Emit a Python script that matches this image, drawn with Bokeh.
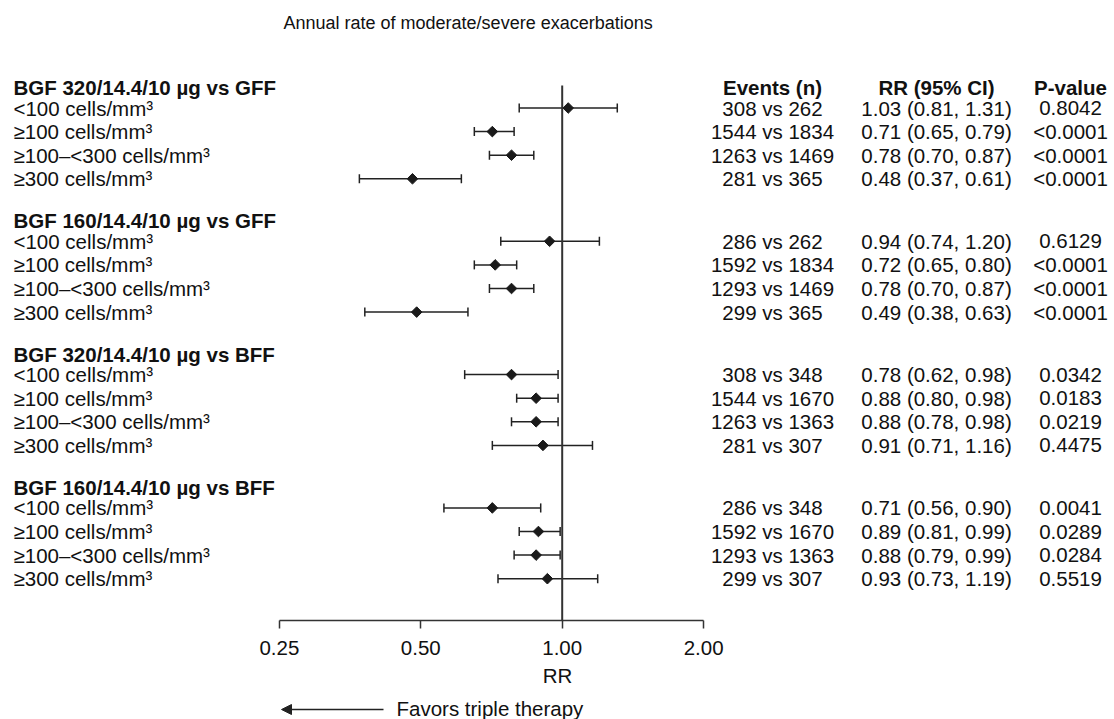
from bokeh.plotting import figure
from bokeh.layouts import column
from bokeh.models import (ColumnDataSource, Range1d, FixedTicker, NumeralTickFormatter,
                          Whisker, TeeHead, Label, Arrow, NormalHead)
from bokeh.core.properties import value
from bokeh.embed import file_html
from bokeh.resources import INLINE
import numpy as np

# ---------------- data ----------------
title_text = "Annual rate of moderate/severe exacerbations"
groups = ["BGF 320/14.4/10 µg vs GFF", "BGF 160/14.4/10 µg vs GFF",
          "BGF 320/14.4/10 µg vs BFF", "BGF 160/14.4/10 µg vs BFF"]
subgroups = ["<100 cells/mm³", "≥100 cells/mm³", "≥100–<300 cells/mm³", "≥300 cells/mm³"]
rr = [1.03, 0.71, 0.78, 0.48,
      0.94, 0.72, 0.78, 0.49,
      0.78, 0.88, 0.88, 0.91,
      0.71, 0.89, 0.88, 0.93]
ci_low = [0.81, 0.65, 0.70, 0.37,
          0.74, 0.65, 0.70, 0.38,
          0.62, 0.80, 0.78, 0.71,
          0.56, 0.81, 0.79, 0.73]
ci_high = [1.31, 0.79, 0.87, 0.61,
           1.20, 0.80, 0.87, 0.63,
           0.98, 0.98, 0.98, 1.16,
           0.90, 0.99, 0.99, 1.19]
events = ["308 vs 262", "1544 vs 1834", "1263 vs 1469", "281 vs 365",
          "286 vs 262", "1592 vs 1834", "1293 vs 1469", "299 vs 365",
          "308 vs 348", "1544 vs 1670", "1263 vs 1363", "281 vs 307",
          "286 vs 348", "1592 vs 1670", "1293 vs 1363", "299 vs 307"]
pvalues = ["0.8042", "<0.0001", "<0.0001", "<0.0001",
           "0.6129", "<0.0001", "<0.0001", "<0.0001",
           "0.0342", "0.0183", "0.0219", "0.4475",
           "0.0041", "0.0289", "0.0284", "0.5519"]
col_headers = ["Events (n)", "RR (95% CI)", "P-value"]
tick_values = [0.25, 0.5, 1.0, 2.0]
null_value = 1.0
axis_label = "RR"
favors_text = "Favors triple therapy"

# ---------------- layout ----------------
W = 1114
H_MAIN, H_FOOT = 695, 24
FRAME_BOTTOM = 620
FONT = value("Liberation Sans")
FS = "20.5px"
PX_ONE, PX_OCT = 561.7, 141.4   # page px of RR=1 and px per doubling


def px_to_x(px):
    return 2 ** ((px - PX_ONE) / PX_OCT)


group_y = [87 + 133.3 * g for g in range(len(groups))]
row_y = [gy + 20.5 + 23.6 * i for gy in group_y for i in range(len(subgroups))]
row_labels = [s for _ in groups for s in subgroups]
rr_text = [f"{r:.2f} ({l:.2f}, {h:.2f})" for r, l, h in zip(rr, ci_low, ci_high)]

xr = Range1d(px_to_x(0), px_to_x(W))

p = figure(width=W, height=H_MAIN, output_backend="svg", toolbar_location=None,
           x_axis_type="log", y_axis_location=None,
           x_range=xr, y_range=Range1d(FRAME_BOTTOM, 0),
           min_border_left=0, min_border_right=0, min_border_top=0,
           min_border_bottom=H_MAIN - FRAME_BOTTOM)
p.outline_line_color = None
p.xgrid.visible = False
p.ygrid.visible = False
p.background_fill_color = "white"
p.border_fill_color = "white"

# x axis
ax = p.xaxis[0]
ax.ticker = FixedTicker(ticks=tick_values)
ax.formatter = NumeralTickFormatter(format="0.00")
ax.bounds = (tick_values[0], tick_values[-1])
ax.axis_line_color = "#333333"
ax.axis_line_width = 1.5
ax.major_tick_line_color = "#333333"
ax.major_tick_line_width = 1.5
ax.major_tick_out = 8
ax.major_tick_in = 0
ax.minor_tick_line_color = None
ax.major_label_text_font = "Liberation Sans"
ax.major_label_text_font_size = FS
ax.major_label_text_color = "#111111"
ax.major_label_standoff = 12
ax.axis_label = axis_label
ax.axis_label_text_font = "Liberation Sans"
ax.axis_label_text_font_size = FS
ax.axis_label_text_font_style = "normal"
ax.axis_label_text_color = "#111111"
ax.axis_label_standoff = 6

# reference line at RR = 1
p.segment(x0=[null_value], y0=[85], x1=[null_value], y1=[FRAME_BOTTOM],
          line_color="#333333", line_width=2)

# confidence intervals
src = ColumnDataSource(dict(y=row_y, rr=rr, lo=ci_low, hi=ci_high,
                            label=row_labels, events=events, rrt=rr_text, p=pvalues))
wk = Whisker(source=src, base="y", lower="lo", upper="hi", dimension="width",
             line_color="#222222", line_width=1.5,
             lower_head=TeeHead(size=9, line_color="#222222", line_width=1.5),
             upper_head=TeeHead(size=9, line_color="#222222", line_width=1.5))
p.add_layout(wk)

# point estimates
p.scatter(x="rr", y="y", source=src, marker="square", angle=np.pi / 4, size=7.5,
          fill_color="#1a1a1a", line_color="#1a1a1a")

# left labels
p.text(x=px_to_x(13), y="y", text="label", source=src, text_font=FONT,
       text_font_size=FS, text_baseline="middle", text_align="left",
       text_color="#111111")
gsrc = ColumnDataSource(dict(y=group_y, t=groups))
p.text(x=px_to_x(13), y="y", text="t", source=gsrc, text_font=FONT,
       text_font_size=FS, text_font_style="bold", text_baseline="middle",
       text_align="left", text_color="#111111")

# right columns
col_px = [772, 936, 1070]
for cx, field in zip(col_px, ["events", "rrt", "p"]):
    p.text(x=px_to_x(cx), y="y", text=field, source=src, text_font=FONT,
           text_font_size=FS, text_baseline="middle", text_align="center",
           text_color="#111111")
hsrc = ColumnDataSource(dict(x=[px_to_x(c) for c in col_px],
                             y=[group_y[0]] * 3, t=col_headers))
p.text(x="x", y="y", text="t", source=hsrc, text_font=FONT, text_font_size=FS,
       text_font_style="bold", text_baseline="middle", text_align="center",
       text_color="#111111")

# title
p.add_layout(Label(x=px_to_x(283), y=22, text=title_text, text_font="Liberation Sans",
                   text_font_size="18px", text_baseline="middle", text_align="left",
                   text_color="#111111"))

# footer figure: favors arrow
f = figure(width=W, height=H_FOOT, output_backend="svg", toolbar_location=None,
           x_axis_type="log", x_axis_location=None, y_axis_location=None,
           x_range=xr, y_range=Range1d(H_MAIN + H_FOOT, H_MAIN),
           min_border_left=0, min_border_right=0, min_border_top=0, min_border_bottom=0)
f.outline_line_color = None
f.xgrid.visible = False
f.ygrid.visible = False
f.add_layout(Arrow(x_start=px_to_x(383), x_end=px_to_x(281), y_start=709, y_end=709,
                   line_color="#222222", line_width=1.5,
                   end=NormalHead(size=10, fill_color="#222222", line_color="#222222")))
f.add_layout(Label(x=px_to_x(396), y=708, text=favors_text, text_font="Liberation Sans",
                   text_font_size=FS, text_baseline="middle", text_align="left",
                   text_color="#111111"))

layout = column(p, f, spacing=0)
open("out.html", "w").write(file_html(layout, INLINE))
